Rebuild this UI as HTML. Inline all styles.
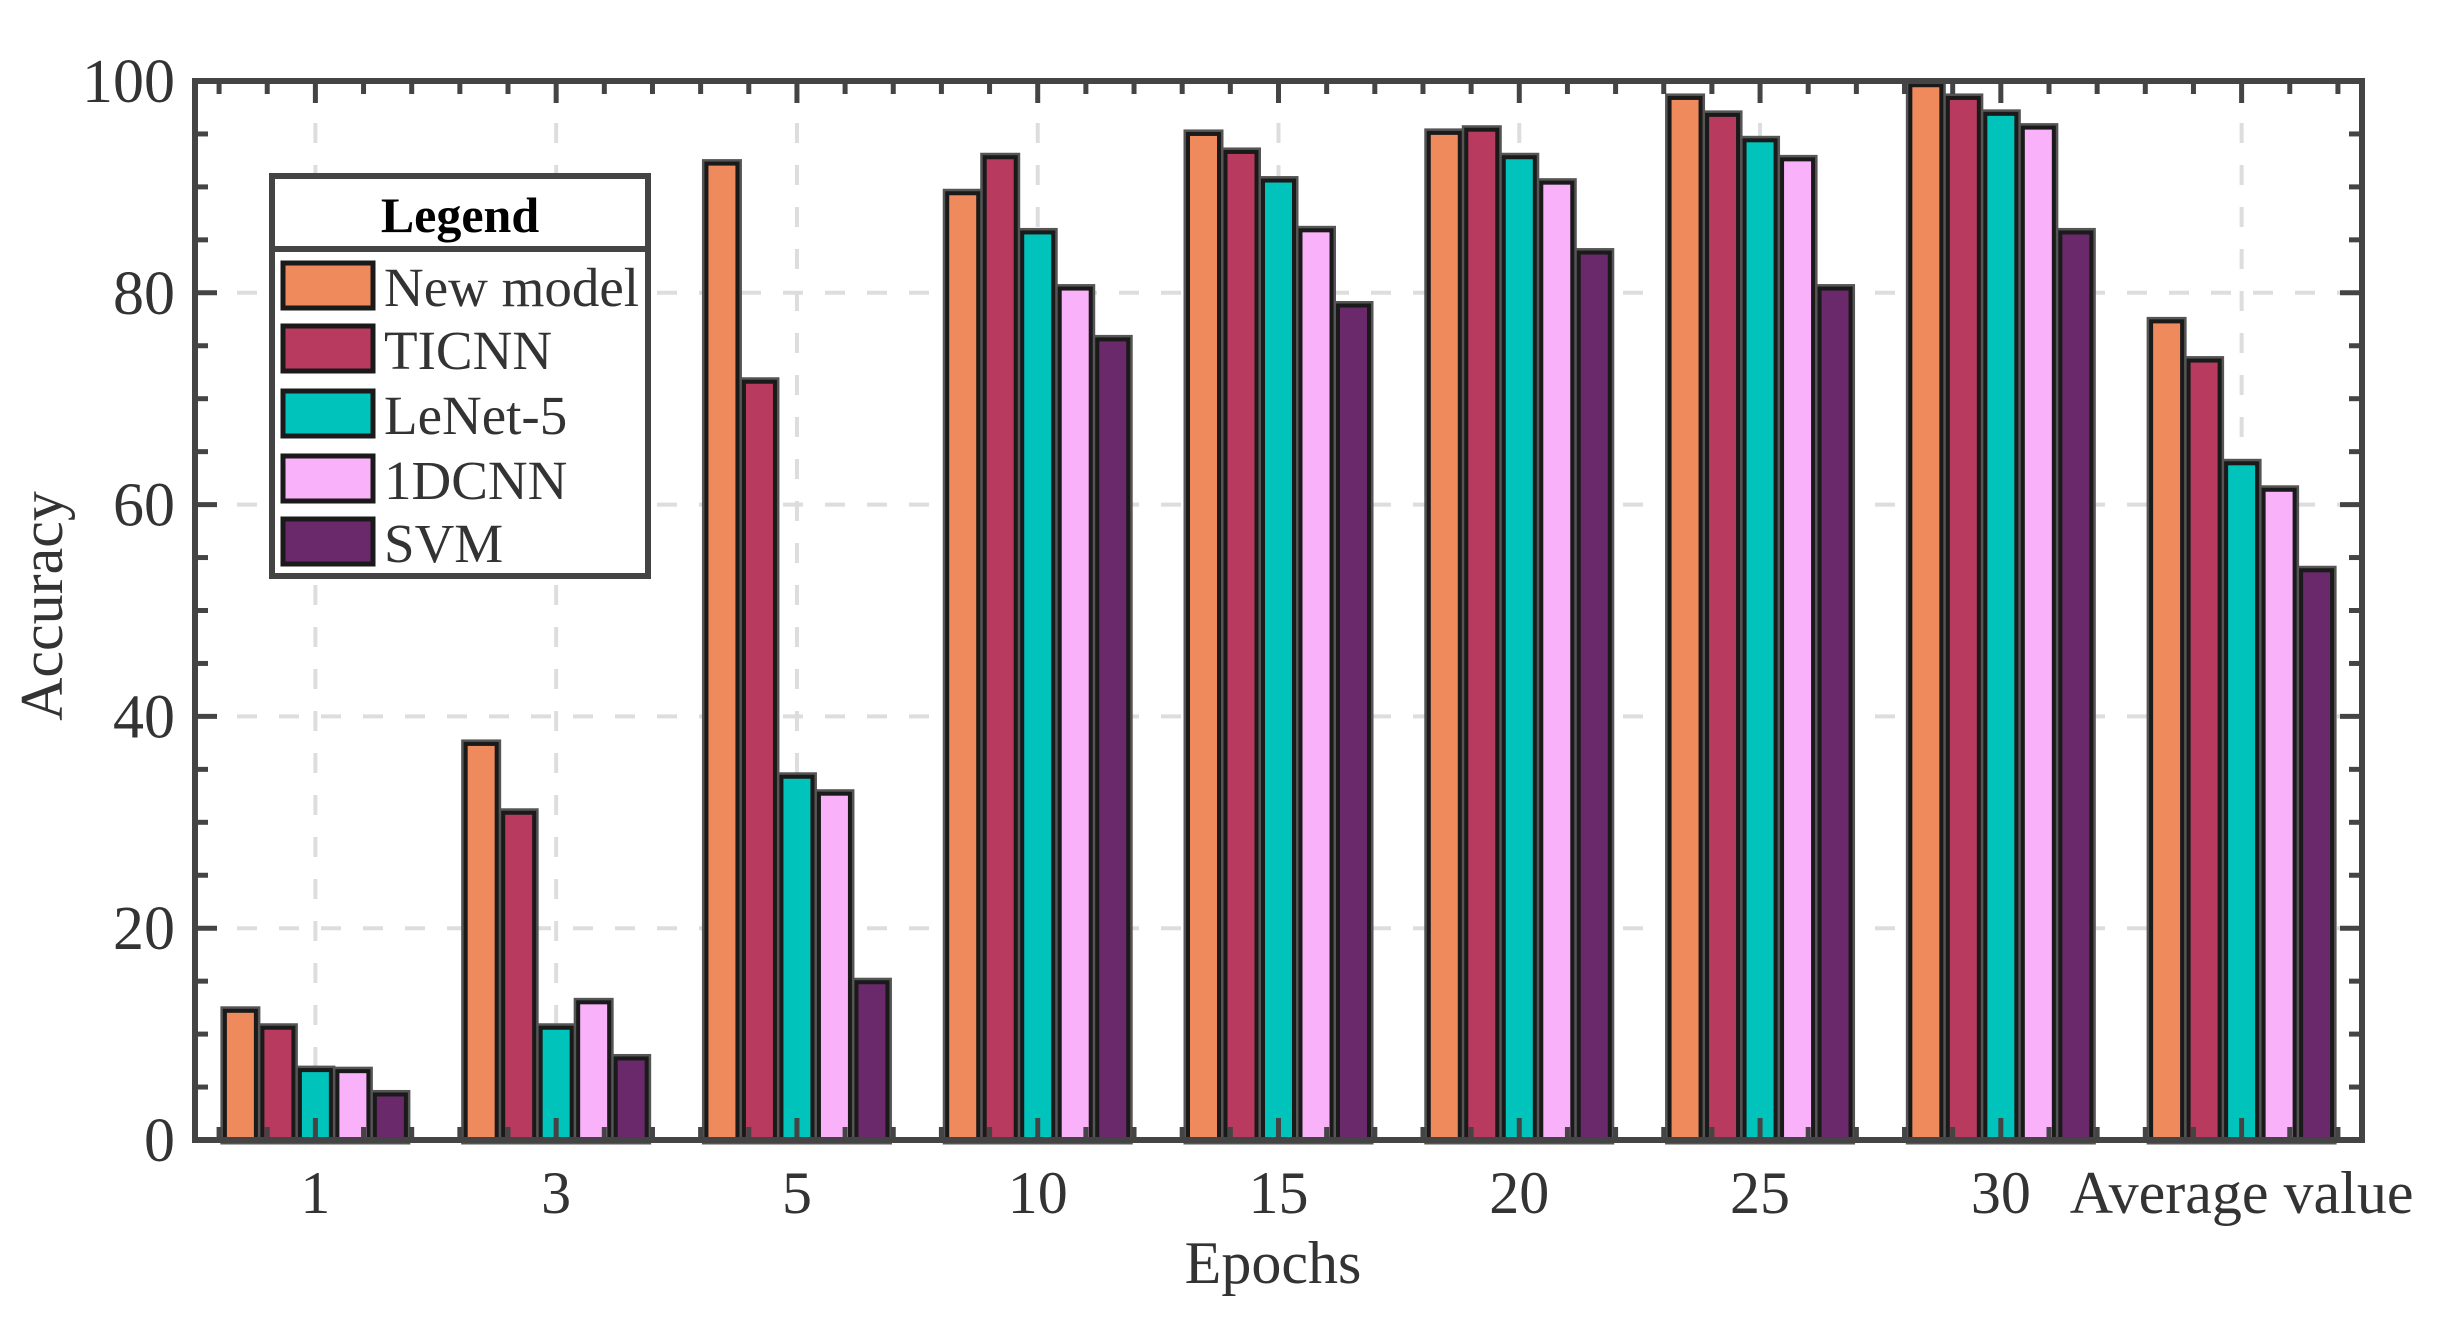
<!DOCTYPE html>
<html><head><meta charset="utf-8"><style>
html,body{margin:0;padding:0;background:#fff;}
svg{display:block;}
text{font-family:"Liberation Serif",serif;fill:#333;}
</style></head><body>
<svg id="s" width="2440" height="1322" viewBox="0 0 2440 1322" xmlns="http://www.w3.org/2000/svg"></svg>
<script>
const s=document.getElementById('s');
const L=195,R=2362,T=81,B=1140;
const yv=v=>B-(B-T)*v/100;
const sp=(R-L)/9;
const cx=i=>L+sp*(i+0.5);
let h='';
for(let i=0;i<9;i++){h+=`<line x1="${cx(i)}" y1="${T}" x2="${cx(i)}" y2="${B}" stroke="#ddd" stroke-width="4" stroke-dasharray="20,22"/>`;}
for(let v=20;v<100;v+=20){h+=`<line x1="${L}" y1="${yv(v)}" x2="${R}" y2="${yv(v)}" stroke="#ddd" stroke-width="4" stroke-dasharray="20,22"/>`;}
const cols=['#EE8A5C','#B83A5E','#00C4BB','#F9B1F9','#69296B'];
const data=[[12.2,10.6,6.6,6.5,4.3],[37.4,30.9,10.6,13,7.7],[92.2,71.6,34.3,32.7,14.9],[89.4,92.8,85.7,80.4,75.6],[95,93.3,90.6,85.9,78.8],[95.1,95.4,92.8,90.4,83.8],[98.4,96.8,94.4,92.6,80.4],[99.6,98.4,96.9,95.6,85.7],[77.3,73.6,63.9,61.4,53.8]];
const pitch=37.5,bw=31;
data.forEach((g,i)=>{g.forEach((v,j)=>{const x=cx(i)+(j-2)*pitch-bw/2;const y=yv(v);
h+=`<rect x="${x}" y="${y}" width="${bw}" height="${B-y}" fill="${cols[j]}" stroke="#555" stroke-width="9"/>`;});
g.forEach((v,j)=>{const x=cx(i)+(j-2)*pitch-bw/2;const y=yv(v);
h+=`<rect x="${x}" y="${y}" width="${bw}" height="${B-y}" fill="${cols[j]}" stroke="#1a1a1a" stroke-width="4"/>`;});});
for(let k=-2;k<=47;k++){const x=cx(0)+sp*k/5;if(x<=L+2||x>=R-2)continue;const len=(k%5==0)?22:13;
h+=`<line x1="${x}" y1="${B}" x2="${x}" y2="${B-len}" stroke="#444" stroke-width="5"/><line x1="${x}" y1="${T}" x2="${x}" y2="${T+len}" stroke="#444" stroke-width="5"/>`;}
for(let v=5;v<100;v+=5){const y=yv(v);const len=(v%20==0)?22:13;
h+=`<line x1="${L}" y1="${y}" x2="${L+len}" y2="${y}" stroke="#444" stroke-width="5"/><line x1="${R}" y1="${y}" x2="${R-len}" y2="${y}" stroke="#444" stroke-width="5"/>`;}
h+=`<rect x="${L}" y="${T}" width="${R-L}" height="${B-T}" fill="none" stroke="#444" stroke-width="6"/>`;
for(let v=0;v<=100;v+=20){h+=`<text x="175" y="${yv(v)+21}" font-size="62" text-anchor="end">${v}</text>`;}
const xl=['1','3','5','10','15','20','25','30','Average value'];
xl.forEach((t,i)=>{h+=`<text x="${cx(i)}" y="1213" font-size="60" text-anchor="middle">${t}</text>`;});
h+=`<text x="1273" y="1283" font-size="60" text-anchor="middle">Epochs</text>`;
h+=`<text transform="translate(62,606) rotate(-90)" font-size="60" text-anchor="middle">Accuracy</text>`;
h+=`<rect x="272" y="176" width="376" height="400" fill="#fff" stroke="#444" stroke-width="6"/>`;
h+=`<line x1="272" y1="249" x2="648" y2="249" stroke="#444" stroke-width="6"/>`;
h+=`<text x="460" y="232" font-size="50" font-weight="bold" text-anchor="middle" style="fill:#000">Legend</text>`;
const names=['New model','TICNN','LeNet-5','1DCNN','SVM'];
const ys=[263,326,391,456,519];
names.forEach((n,j)=>{h+=`<rect x="283" y="${ys[j]}" width="90" height="45" fill="${cols[j]}" stroke="#1a1a1a" stroke-width="5"/>`;
h+=`<text x="384" y="${ys[j]+43}" font-size="55">${n}</text>`;});
s.innerHTML=h;
</script>
</body></html>
